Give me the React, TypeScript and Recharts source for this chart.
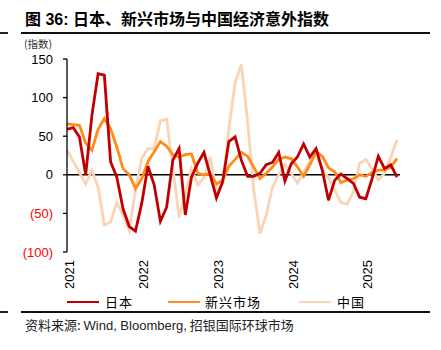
import React from "react";
import { LineChart, Line, XAxis, YAxis, ReferenceLine } from "recharts";

// monthly, Jan 2021 - Jun 2025
const months = [
  "2021-01", "2021-02", "2021-03", "2021-04", "2021-05", "2021-06", "2021-07", "2021-08", "2021-09", "2021-10", "2021-11", "2021-12",
  "2022-01", "2022-02", "2022-03", "2022-04", "2022-05", "2022-06", "2022-07", "2022-08", "2022-09", "2022-10", "2022-11", "2022-12",
  "2023-01", "2023-02", "2023-03", "2023-04", "2023-05", "2023-06", "2023-07", "2023-08", "2023-09", "2023-10", "2023-11", "2023-12",
  "2024-01", "2024-02", "2024-03", "2024-04", "2024-05", "2024-06", "2024-07", "2024-08", "2024-09", "2024-10", "2024-11", "2024-12",
  "2025-01", "2025-02", "2025-03", "2025-04", "2025-05", "2025-06",
];

const japan = [
  59, 61, 49, 0, 77, 131, 129, 17, -3, -44, -67, -73,
  -37, 11, -13, -60, -42, 19, 34, -52, -3, 15, 29, 0,
  -30, -9, 43, 49, 19, -2, -2, 2, 13, 16, 29, -8,
  14, 23, 40, 23, 34, 6, -33, -7, 1, -5, -11, -29,
  -31, -5, 24, 8, 13, -3,
];

const emerging = [
  66, 65, 64, 41, 32, 59, 73, 60, 36, 8, 0, -18,
  -5, 17, 30, 43, 37, 26, 23, 26, 27, 2, 0, 2,
  -12, -7, 11, 20, 29, 24, 10, -5, 2, 10, 20, 23,
  21, 10, -2, 13, 30, 24, 9, 4, -10, -7, -5, 0,
  -2, 3, 6, 6, 10, 21,
];

const china = [
  32, 17, 3, -12, 6, -16, -65, -61, -36, -52, -72, -19,
  21, 34, 34, 70, 72, 10, -55, -26, 8, -13, -4, 23,
  -24, -11, 60, 119, 143, 70, -20, -76, -52, -16, 0, 13,
  2, -11, 4, 17, 26, 6, -3, -20, -36, -38, -22, 15,
  20, 8, -7, 2, 23, 45,
];

const yTicks = [-100, -50, 0, 50, 100, 150];

const data = months.map((m, i) => ({ month: m, japan: japan[i], em: emerging[i], china: china[i] }));

const FONT = '"Liberation Sans", Arial, "Noto Sans CJK SC", sans-serif';
const CJK = '"Noto Sans CJK SC", "Liberation Sans", sans-serif';

const YTick = (props: any) => {
  const { x, y, payload } = props;
  const v = payload.value;
  const neg = v < 0;
  return (
    <text x={x} y={y} dy={4.5} textAnchor="end" fontSize={13} fill={neg ? "#FF0000" : "#000"} fontFamily={FONT}>
      {neg ? `(${-v})` : v}
    </text>
  );
};

const XTick = (props: any) => {
  const { x, y, payload } = props;
  const tx = x + 2;
  return (
    <text x={tx} y={y} transform={`rotate(-90, ${tx}, ${y})`} textAnchor="end" dominantBaseline="central" fontSize={13} fill="#000" fontFamily={FONT}>
      {String(payload.value).slice(0, 4)}
    </text>
  );
};

const legendItems = [
  { name: "日本", color: "#C00000", line: 67, text: 105 },
  { name: "新兴市场", color: "#FF8C1A", line: 168, text: 205 },
  { name: "中国", color: "#FBD3B5", line: 299, text: 337 },
];

export default function App() {
  return (
    <div style={{ position: "absolute", left: 0, top: 0, width: 441, height: 350, background: "#fff", overflow: "hidden" }}>
      <div style={{ position: "absolute", left: 25, top: 9, fontSize: 16, fontWeight: 700, lineHeight: "18px", fontFamily: CJK, whiteSpace: "nowrap" }}>
        <span style={{ fontFamily: FONT }}>图 36: </span>日本、新兴市场与中国经济意外指数
      </div>
      <div style={{ position: "absolute", left: 0, top: 31.5, width: 8, height: 2, background: "#222" }} />
      <div style={{ position: "absolute", left: 21, top: 31.5, width: 409, height: 2, background: "#111" }} />
      <div style={{ position: "absolute", left: 24, top: 38, fontSize: 10.5, lineHeight: "12px", color: "#333", fontFamily: CJK }}>(指数)</div>

      <LineChart width={441} height={350} data={data} margin={{ top: 59, right: 41, bottom: 58, left: 0 }} style={{ position: "absolute", left: 0, top: 0 }}>
        <XAxis
          dataKey="month"
          interval={11}
          axisLine={false}
          tickLine={false}
          height={40}
          padding={{ left: 0, right: 3 }}
          tick={<XTick />}
        />
        <YAxis
          type="number"
          domain={[-100, 150]}
          ticks={yTicks}
          interval={0}
          width={67}
          axisLine={{ stroke: "#000", strokeWidth: 1.3 }}
          tickLine={{ stroke: "#000", strokeWidth: 1.3 }}
          tickSize={4}
          tickMargin={10}
          tick={<YTick />}
        />
        <ReferenceLine y={0} stroke="#000" strokeWidth={1.5} />
        <Line type="linear" dataKey="china" stroke="#FBD3B5" strokeWidth={2.8} dot={false} isAnimationActive={false} />
        <Line type="linear" dataKey="em" stroke="#FF8C1A" strokeWidth={2.8} dot={false} isAnimationActive={false} />
        <Line type="linear" dataKey="japan" stroke="#C00000" strokeWidth={2.8} dot={false} isAnimationActive={false} />
      </LineChart>

      {legendItems.map((it) => (
        <React.Fragment key={it.name}>
          <div style={{ position: "absolute", left: it.line, top: 300.5, width: 32, height: 2.6, background: it.color }} />
          <div style={{ position: "absolute", left: it.text, top: 294, fontSize: 13, lineHeight: "16px", letterSpacing: 1, color: "#000", fontFamily: CJK }}>{it.name}</div>
        </React.Fragment>
      ))}

      <div style={{ position: "absolute", left: 0, top: 311, width: 8, height: 2, background: "#222" }} />
      <div style={{ position: "absolute", left: 21, top: 311, width: 409, height: 2, background: "#111" }} />
      <div style={{ position: "absolute", left: 25, top: 317, fontSize: 13, lineHeight: "16px", color: "#222", fontFamily: CJK, whiteSpace: "nowrap" }}>
        资料来源: <span style={{ fontFamily: FONT }}>Wind, Bloomberg,</span> 招银国际环球市场
      </div>
    </div>
  );
}
